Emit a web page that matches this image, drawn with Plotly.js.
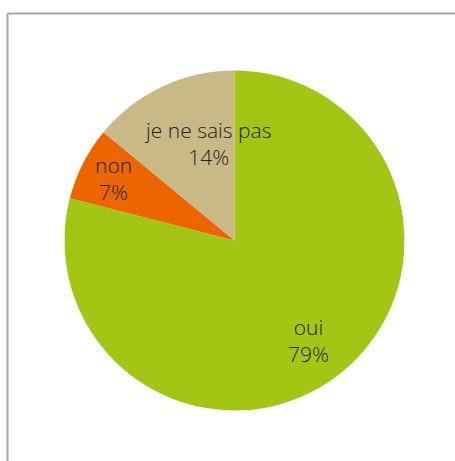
<!DOCTYPE html>
<html>
<head>
<meta charset="utf-8">
<script src="https://cdn.plot.ly/plotly-3.0.1.min.js"></script>
<style>html,body{margin:0;padding:0;background:#fff;}#chart{width:455px;height:461px;}</style>
</head>
<body>
<div id="chart"></div>
<script>
const labels = ["oui", "non", "je ne sais pas"];
const values = [79, 7, 14];
const colors = ["#a3c614", "#ec6500", "#c9b987"];

// label placement styling: radial fraction and angular nudge (degrees)
const labelRadius = [0.73, 0.80, 0.595];
const labelNudge = [1.2, 0.3, 9.7];

const W = 455, H = 461;
const cx = 234.5, cy = 240.5, R = 170;

const trace = {
  type: "pie",
  labels: labels,
  values: values,
  sort: false,
  direction: "clockwise",
  rotation: 0,
  marker: {colors: colors, line: {width: 0}},
  textinfo: "none",
  hoverinfo: "none",
  showlegend: false,
  domain: {x: [(cx - R) / W, (cx + R) / W], y: [(H - cy - R) / H, (H - cy + R) / H]}
};

const total = values.reduce((a, b) => a + b, 0);
let cum = 0;
const annotations = values.map((v, i) => {
  const mid = (cum + v / 2) / total * 360 + labelNudge[i];
  cum += v;
  const th = mid * Math.PI / 180;
  const px = cx + labelRadius[i] * R * Math.sin(th);
  const py = cy - labelRadius[i] * R * Math.cos(th);
  return {
    xref: "paper", yref: "paper",
    x: px / W, y: 1 - py / H,
    xanchor: "center", yanchor: "middle",
    showarrow: false,
    text: labels[i] + "<br>" + Math.round(v / total * 100) + "%",
    font: {family: "Open Sans, sans-serif", size: 21, color: "#222", weight: 300}
  };
});

const layout = {
  width: W, height: H,
  margin: {l: 0, r: 0, t: 0, b: 0},
  paper_bgcolor: "#fff",
  showlegend: false,
  annotations: annotations,
  shapes: [
    {type: "line", xref: "paper", yref: "paper", x0: 7.5 / W, x1: 1, y0: 1 - 13.5 / H, y1: 1 - 13.5 / H, line: {color: "#a6a6a6", width: 2}},
    {type: "line", xref: "paper", yref: "paper", x0: 7.5 / W, x1: 7.5 / W, y0: 1 - 13.5 / H, y1: 0, line: {color: "#a6a6a6", width: 2}}
  ]
};

Plotly.newPlot("chart", [trace], layout, {displayModeBar: false, staticPlot: true});
</script>
</body>
</html>
